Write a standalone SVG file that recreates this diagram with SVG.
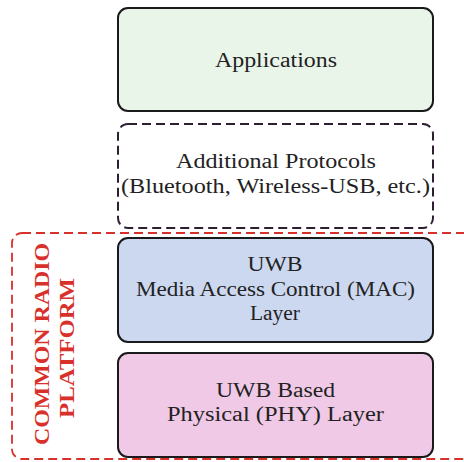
<svg xmlns="http://www.w3.org/2000/svg" width="464" height="462" viewBox="0 0 464 462">
<style>
.box{stroke:#1a1a1a;stroke-width:2}
.t{font-family:"Liberation Serif","Times New Roman",serif;font-size:20px;fill:#222;text-anchor:middle}
.r{font-family:"Liberation Serif","Times New Roman",serif;font-size:21px;font-weight:bold;fill:#d8302a;text-anchor:middle}
</style>
<rect width="464" height="462" fill="#fff"/>
<g id="platform">
<rect x="12" y="233" width="500" height="226" rx="10" fill="none" stroke="#d8302a" stroke-width="1.8" stroke-dasharray="9,5"/>
<g transform="translate(42,344) rotate(-90)"><text class="r" x="0" y="7" textLength="202" lengthAdjust="spacingAndGlyphs">COMMON RADIO</text></g>
<g transform="translate(67,348) rotate(-90)"><text class="r" x="0" y="7" textLength="140" lengthAdjust="spacingAndGlyphs">PLATFORM</text></g>
</g>
<g id="applications">
<rect class="box" x="118" y="8" width="315" height="103" rx="10" fill="#eaf5ea"/>
<text class="t" x="276" y="67" textLength="122" lengthAdjust="spacingAndGlyphs">Applications</text>
</g>
<g id="protocols">
<rect x="118" y="124" width="315" height="104" rx="10" fill="#fff" stroke="#2e1e34" stroke-width="2" stroke-dasharray="9,5"/>
<text class="t" x="276" y="168" textLength="200" lengthAdjust="spacingAndGlyphs">Additional Protocols</text>
<text class="t" x="275.5" y="193" textLength="309" lengthAdjust="spacingAndGlyphs">(Bluetooth, Wireless-USB, etc.)</text>
</g>
<g id="mac">
<rect class="box" x="118" y="238" width="315" height="104" rx="10" fill="#ccd8f0"/>
<text class="t" x="275" y="271" textLength="55" lengthAdjust="spacingAndGlyphs">UWB</text>
<text class="t" x="275.5" y="296" textLength="279" lengthAdjust="spacingAndGlyphs">Media Access Control (MAC)</text>
<text class="t" x="275" y="320" textLength="50" lengthAdjust="spacingAndGlyphs">Layer</text>
</g>
<g id="phy">
<rect class="box" x="118" y="353" width="315" height="104" rx="10" fill="#f0c9e6"/>
<text class="t" x="275.5" y="397" textLength="119" lengthAdjust="spacingAndGlyphs">UWB Based</text>
<text class="t" x="275.5" y="421" textLength="217" lengthAdjust="spacingAndGlyphs">Physical (PHY) Layer</text>
</g>
<g id="connectors"></g>
</svg>
